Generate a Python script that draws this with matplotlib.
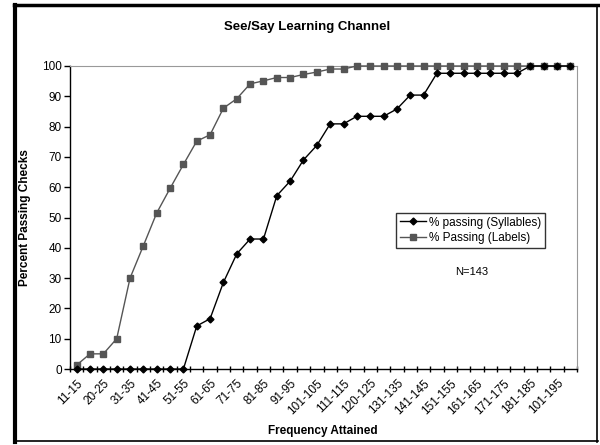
import numpy as np
import matplotlib.pyplot as plt

# category labels (every other one is shown on the axis)
categories = ["11-15", "16-20", "20-25", "26-30", "31-35", "36-40", "41-45", "46-50",
              "51-55", "56-60", "61-65", "66-70", "71-75", "76-80", "81-85", "86-90",
              "91-95", "96-100", "101-105", "106-110", "111-115", "116-120", "120-125",
              "126-130", "131-135", "136-140", "141-145", "146-150", "151-155", "156-160",
              "161-165", "166-170", "171-175", "176-180", "181-185", "186-190", "101-195",
              "196-200"]

syllables = [0, 0, 0, 0, 0, 0, 0, 0, 0, 14.2, 16.6, 28.6, 38.0, 42.9, 42.9, 57.2,
             62.0, 69.0, 73.8, 80.9, 80.9, 83.4, 83.4, 83.4, 85.8, 90.4, 90.4, 97.6,
             97.6, 97.6, 97.6, 97.6, 97.6, 97.6, 100, 100, 100, 100]

labels = [1.3, 5, 5, 10, 30, 40.7, 51.5, 59.6, 67.5, 75.2, 77.3, 86.1, 89.2, 94.1,
          95.1, 96.2, 96.2, 97.2, 98.0, 99.0, 99.0, 100, 100, 100, 100, 100, 100, 100,
          100, 100, 100, 100, 100, 100, 100, 100, 100, 100]

plt.rcParams['font.family'] = ['Liberation Sans', 'DejaVu Sans']

fig = plt.figure(figsize=(6, 4.45), dpi=100)
ax = fig.add_axes([70 / 600, 1 - 369 / 445, 507 / 600, 303 / 445])

x = np.arange(len(categories))
ax.plot(x, syllables, color='black', lw=1, marker='D', ms=3.5,
        label='% passing (Syllables)', clip_on=False, zorder=4)
ax.plot(x, labels, color='#555555', lw=1, marker='s', ms=4,
        label='% Passing (Labels)', clip_on=False, zorder=3)

ax.set_xlim(-0.5, len(categories) - 0.5)
ax.set_ylim(0, 100)
ax.set_yticks(range(0, 101, 10))
ax.tick_params(axis='y', labelsize=8.5, length=4, width=1, pad=2)

# ticks between categories, labels on every other category
ax.set_xticks(np.arange(len(categories) + 1) - 0.5)
ax.set_xticklabels([])
ax.set_xticks(x[::2], minor=True)
ax.set_xticklabels(categories[::2], minor=True, rotation=45, ha='right',
                   rotation_mode='anchor', fontsize=8.5)
ax.tick_params(axis='x', which='major', direction='inout', length=5, width=1)
ax.tick_params(axis='x', which='minor', length=0, pad=6)

for s in ['top', 'right']:
    ax.spines[s].set_color('#999999')
for s in ['left', 'bottom']:
    ax.spines[s].set_color('black')
    ax.spines[s].set_linewidth(1)

leg = ax.legend(loc='upper left', bbox_to_anchor=(326 / 507, 1 - 147 / 303),
                fontsize=8.5, frameon=True, fancybox=False, borderpad=0.3,
                handlelength=2.2, handletextpad=0.3, labelspacing=0.3,
                borderaxespad=0)
leg.get_frame().set_edgecolor('black')
leg.get_frame().set_linewidth(1)

fig.text(472 / 600, 1 - 272 / 445, 'N=143', fontsize=8, ha='center', va='center')

fig.text(307 / 600, 1 - 27 / 445, 'See/Say Learning Channel', fontsize=9.5,
         fontweight='bold', ha='center', va='center')
fig.text(323 / 600, 1 - 431 / 445, 'Frequency Attained', fontsize=8.5,
         fontweight='bold', ha='center', va='center')
fig.text(25 / 600, 1 - 218 / 445, 'Percent Passing Checks', fontsize=8.5,
         fontweight='bold', ha='center', va='center', rotation=90)

# chart frame
fig.add_artist(plt.Line2D([15 / 600, 15 / 600], [1 - 442 / 445, 1 - 5 / 445],
                          color='black', lw=3, transform=fig.transFigure))
fig.add_artist(plt.Line2D([14 / 600, 598 / 600], [1 - 5 / 445, 1 - 5 / 445],
                          color='black', lw=2.5, transform=fig.transFigure))
fig.add_artist(plt.Line2D([597 / 600, 597 / 600], [1 - 442 / 445, 1 - 5 / 445],
                          color='black', lw=1.2, transform=fig.transFigure))
fig.add_artist(plt.Line2D([14 / 600, 598 / 600], [1 - 441 / 445, 1 - 441 / 445],
                          color='black', lw=1.2, transform=fig.transFigure))

fig.savefig('out.png', dpi=100)
